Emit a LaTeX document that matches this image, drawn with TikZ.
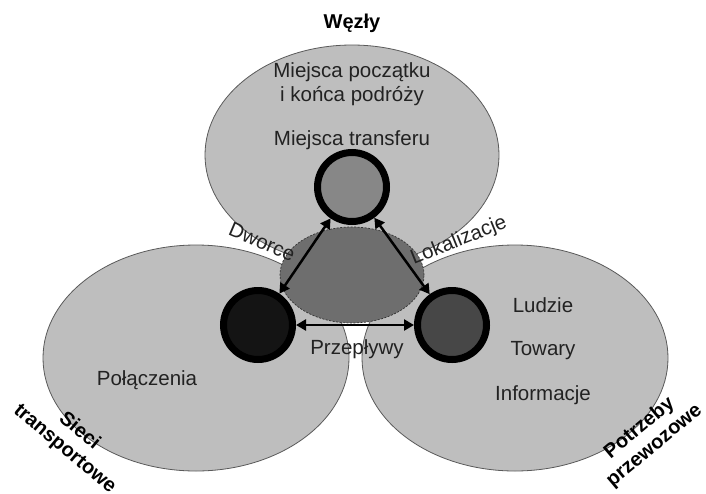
\documentclass[tikz,border=0pt]{standalone}
\usepackage{fontspec}
\setmainfont{Liberation Sans}
\usetikzlibrary{shapes.geometric,arrows.meta}
\definecolor{areafill}{HTML}{BEBEBE}
\definecolor{areaedge}{HTML}{5A5A5A}
\definecolor{corefill}{HTML}{6E6E6E}
\definecolor{txt}{HTML}{222222}
\tikzset{
  area/.style={ellipse, draw=areaedge, fill=areafill, line width=0.8pt, inner sep=0pt},
  core/.style={ellipse, draw=black!80, dashed, dash pattern=on 2pt off 1.5pt, fill=corefill, line width=0.7pt, inner sep=0pt},
  hub/.style={circle, draw=black, line width=7pt, minimum size=69pt, inner sep=0pt},
  lbl/.style={text=txt, font=\fontsize{20.5}{24}\selectfont, align=center},
  title/.style={text=black, font=\fontsize{20}{23}\selectfont\bfseries, align=center},
  link/.style={line width=2.5pt, {Triangle[length=10pt,width=11pt]}-{Triangle[length=10pt,width=11pt]}}
}
\begin{document}
\begin{tikzpicture}[x=1pt,y=-1pt]
\useasboundingbox (0,0) rectangle (706,493);
\fill[white] (0,0) rectangle (706,493);

% three areas
\node[area, minimum width=306pt, minimum height=226pt] (netw) at (196,358) {};
\node[area, minimum width=306pt, minimum height=226pt] (need) at (515,358) {};
\node[area, minimum width=294pt, minimum height=220pt] (node) at (352,155) {};

% shared core
\node[core, minimum width=144pt, minimum height=96pt] (mid) at (352,275) {};

% hubs
\node[hub, fill=black!47] (t) at (352,187) {};
\node[hub, fill=black!92] (l) at (258,325) {};
\node[hub, fill=black!72] (r) at (452,325) {};

\draw[link] (t) -- (l);
\draw[link] (t) -- (r);
\draw[link] (l) -- (r);

% texts inside areas
\node[lbl] (start) at (352,84) {Miejsca początku\\i końca podróży};
\node[lbl] (transfer) at (352,140) {Miejsca transferu};
\node[lbl] (conn) at (147,380) {Połączenia};
\node[lbl] (ppl) at (543,305) {Ludzie};
\node[lbl] (goods) at (543,351) {Towary};
\node[lbl] (info) at (543,395) {Informacje};
\node[lbl] (flows) at (357,349) {Przepływy};
\node[lbl, rotate=-23] (stations) at (262,242) {Dworce};
\node[lbl, rotate=22] (places) at (459,241) {Lokalizacje};

% area titles
\node[title] (tnode) at (352,23) {Węzły};
\node[title, rotate=-40] (tnetw) at (72,440) {Sieci\\transportowe};
\node[title, rotate=40] (tneed) at (647,437) {Potrzeby\\przewozowe};
\end{tikzpicture}
\end{document}
